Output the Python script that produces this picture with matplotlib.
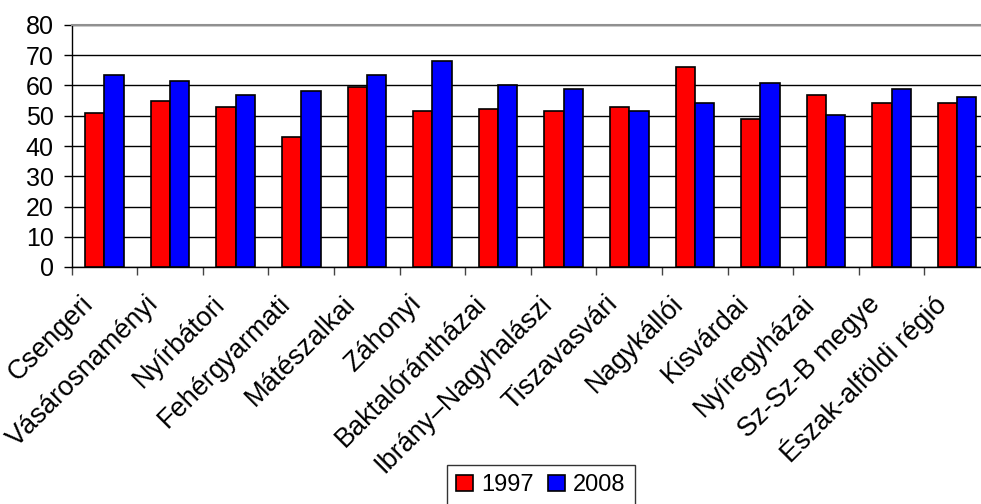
import numpy as np
import matplotlib
matplotlib.use("Agg")
import matplotlib.pyplot as plt
from matplotlib.ticker import FixedLocator
from matplotlib.transforms import ScaledTranslation

plt.rcParams["font.family"] = ["Liberation Sans", "DejaVu Sans"]

categories = ["Csengeri", "Vásárosnaményi", "Nyírbátori", "Fehérgyarmati",
              "Mátészalkai", "Záhonyi", "Baktalórántházai", "Ibrány–Nagyhalászi",
              "Tiszavasvári", "Nagykállói", "Kisvárdai", "Nyíregyházai",
              "Sz-Sz-B megye", "Észak-alföldi régió"]
vals_1997 = [50.8, 54.9, 52.9, 43.0, 59.4, 51.6, 52.2, 51.6, 52.9, 66.1, 49.0, 56.7, 54.2, 54.2]
vals_2008 = [63.4, 61.5, 56.7, 58.2, 63.4, 68.1, 60.2, 58.8, 51.6, 54.2, 60.8, 50.2, 58.8, 56.2]
yticks = [0, 10, 20, 30, 40, 50, 60, 70, 80]

FS = 18
W, H = 981, 504
fig = plt.figure(figsize=(W / 100, H / 100), dpi=100)
# plot area runs a little past the right edge, like the original
ax = fig.add_axes([71.7 / W, 1 - 267 / H, (990 - 71.7) / W, (267 - 25) / H])

x = np.arange(len(categories)) + 0.5
bw = 0.294
ax.bar(x - bw / 2, vals_1997, bw, color="#ff0000", edgecolor="black", linewidth=1.2,
       label="1997", zorder=3)
ax.bar(x + bw / 2, vals_2008, bw, color="#0000ff", edgecolor="black", linewidth=1.2,
       label="2008", zorder=3)

ax.set_xlim(0, len(categories))
ax.set_ylim(0, 80)
ax.set_yticks(yticks)
ax.set_yticklabels([str(v) for v in yticks], fontsize=FS)
ax.yaxis.grid(True, color="black", linewidth=1.0, zorder=0)
ax.tick_params(axis="y", length=6, width=1, pad=7)

# category boundaries get the tick marks, labels sit at the centres
ax.xaxis.set_major_locator(FixedLocator(np.arange(len(categories) + 1)))
ax.set_xticklabels([])
ax.tick_params(axis="x", length=5.5, width=1, color="#444444")
ax.xaxis.set_minor_locator(FixedLocator(x))
ax.set_xticklabels(categories, minor=True, rotation=45, ha="right", va="center",
                   rotation_mode="anchor", fontsize=19.5)
ax.tick_params(axis="x", which="minor", length=0, pad=0)
shift = ScaledTranslation(-15 / 100, -33 / 100, fig.dpi_scale_trans)
for lbl in ax.get_xticklabels(minor=True):
    lbl.set_transform(lbl.get_transform() + shift)

for s in ["left", "bottom"]:
    ax.spines[s].set_color("black")
    ax.spines[s].set_linewidth(1.0)
ax.spines["top"].set_color("#909090")
ax.spines["top"].set_linewidth(1.5)
ax.spines["right"].set_color("#909090")

leg = fig.legend(loc="upper left", bbox_to_anchor=(447 / W, 1 - 465 / H),
                 ncol=2, fontsize=17, frameon=True, fancybox=False,
                 handlelength=0.7, handleheight=0.7, handletextpad=0.35,
                 columnspacing=0.6, borderpad=0.4, borderaxespad=0)
leg.get_frame().set_edgecolor("black")
leg.get_frame().set_linewidth(1.0)

fig.savefig("out.png", dpi=100)
